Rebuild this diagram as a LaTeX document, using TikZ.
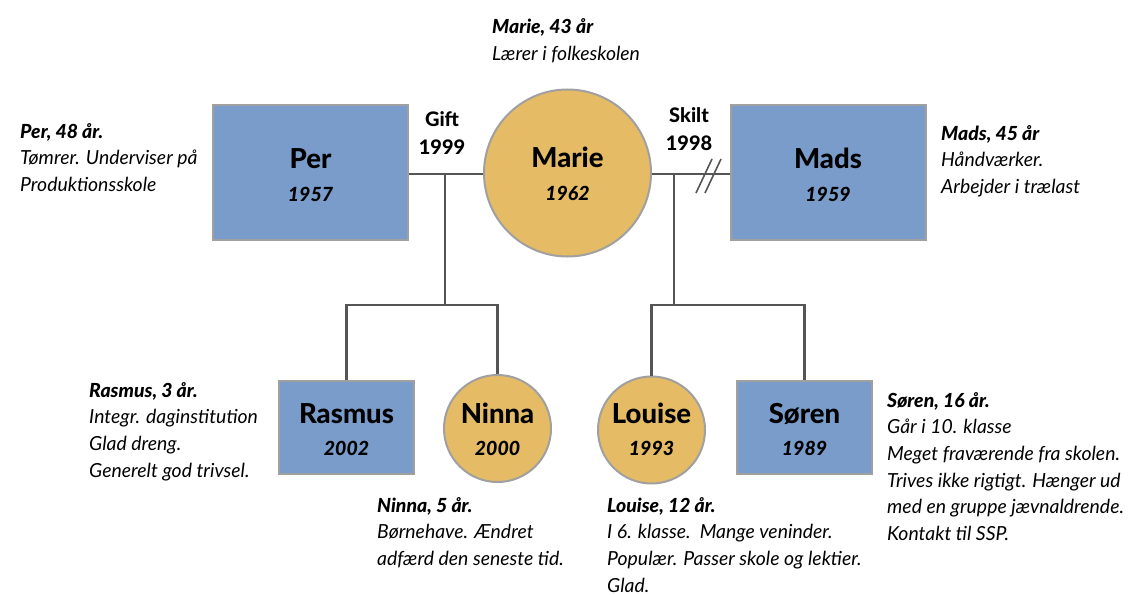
\documentclass[tikz,border=0pt]{standalone}
\usepackage{fontspec}
\setmainfont{Lato}[BoldFont={Lato Heavy},BoldItalicFont={Lato Heavy Italic}]
\definecolor{boyfill}{RGB}{121,156,202}
\definecolor{girlfill}{RGB}{229,188,101}
\definecolor{shapeedge}{RGB}{160,160,160}
\definecolor{linegray}{RGB}{85,85,85}
\newcommand{\nmfont}{\fontsize{27.5}{30}\bfseries\selectfont}
\newcommand{\yrfont}{\fontsize{19.5}{24}\bfseries\itshape\selectfont}
\newcommand{\relfont}{\fontsize{20}{28}\bfseries\selectfont}
\newcommand{\dscfont}{\fontsize{19.4}{26.7}\itshape\selectfont}
\begin{document}
\begin{tikzpicture}[x=1pt,y=-1pt,
  boxshape/.style={draw=shapeedge,line width=2pt,fill=boyfill,rectangle,inner sep=0pt},
  circshape/.style={draw=shapeedge,line width=2pt,fill=girlfill,circle,inner sep=0pt},
  nm/.style={anchor=base,inner sep=0pt,font=\nmfont},
  yr/.style={anchor=base,inner sep=0pt,font=\yrfont},
  rel/.style={anchor=base,inner sep=0pt,font=\relfont},
  dsc/.style={anchor=base west,inner sep=0pt,font=\dscfont},
  conn/.style={draw=linegray,line width=2.5pt},
  slashmark/.style={draw=linegray,line width=1.6pt}]
\useasboundingbox[fill=white] (0,0) rectangle (1129,594);
% parents
\node[boxshape,minimum width=195pt,minimum height=135pt] (per) at (310.5,172) {};
\node[circshape,minimum size=167pt] (marie) at (567.5,173) {};
\node[boxshape,minimum width=195pt,minimum height=135pt] (mads) at (828,172) {};
% children
\node[boxshape,minimum width=135pt,minimum height=93pt] (rasmus) at (346.5,427.5) {};
\node[circshape,minimum size=107pt] (ninna) at (497.5,428.5) {};
\node[circshape,minimum size=107pt] (louise) at (651.5,430) {};
\node[boxshape,minimum width=135pt,minimum height=93pt] (soren) at (804.5,427.5) {};
% couple / child connectors
\coordinate (gm) at (445,174);
\coordinate (gc) at (445,305);
\coordinate (dm) at (674,174);
\coordinate (dc) at (674,305);
\draw[conn] (per.east |- gm) -- (marie.west |- gm);
\draw[conn] (gm) -- (gc);
\draw[conn] (rasmus.north) |- (ninna.north |- gc) -- (ninna.north);
\draw[conn] (marie.east |- dm) -- (mads.west |- dm);
\draw[conn] (dm) -- (dc);
\draw[conn] (louise.north) |- (soren.north |- dc) -- (soren.north);
\coordinate (s1) at (704,176);
\coordinate (s2) at (713,176);
\draw[slashmark] ([shift={(-8,17)}]s1) -- ([shift={(8,-17)}]s1);
\draw[slashmark] ([shift={(-8,17)}]s2) -- ([shift={(8,-17)}]s2);
% names and years
\node[nm] (pername) at (310.5,168) {Per};
\node[yr] (peryear) at (310.5,201) {1957};
\node[nm] (mariename) at (567.5,167) {Marie};
\node[yr] (marieyear) at (567.5,200) {1962};
\node[nm] (madsname) at (828,168) {Mads};
\node[yr] (madsyear) at (828,201) {1959};
\node[nm] (rasmusname) at (346.5,423) {Rasmus};
\node[yr] (rasmusyear) at (346.5,455) {2002};
\node[nm] (ninnaname) at (497.5,423) {Ninna};
\node[yr] (ninnayear) at (497.5,455) {2000};
\node[nm] (louisename) at (651.5,423) {Louise};
\node[yr] (louiseyear) at (651.5,455) {1993};
\node[nm] (sorenname) at (804.5,423) {Søren};
\node[yr] (sorenyear) at (804.5,455) {1989};
% relation labels
\node[rel] (gift) at (442,126) {Gift};
\node[rel] (giftyear) at (442,154) {1999};
\node[rel] (skilt) at (689,122) {Skilt};
\node[rel] (skiltyear) at (689,150) {1998};
% descriptions
\node[dsc] (perdesc) at (20,138) {\begin{tabular}[t]{@{}l@{}}\textbf{Per, 48 år.}\\ Tømrer. Underviser på\\ Produktionsskole\end{tabular}};
\node[dsc] (mariedesc) at (492,34) {\begin{tabular}[t]{@{}l@{}}\textbf{Marie, 43 år}\\ Lærer i folkeskolen\end{tabular}};
\node[dsc] (madsdesc) at (941,140) {\begin{tabular}[t]{@{}l@{}}\textbf{Mads, 45 år}\\ Håndværker.\\ Arbejder i trælast\end{tabular}};
\node[dsc] (rasmusdesc) at (89,397) {\begin{tabular}[t]{@{}l@{}}\textbf{Rasmus, 3 år.}\\ Integr. daginstitution\\ Glad dreng.\\ Generelt god trivsel.\end{tabular}};
\node[dsc] (ninnadesc) at (377,512) {\begin{tabular}[t]{@{}l@{}}\textbf{Ninna, 5 år.}\\ Børnehave. Ændret\\ adfærd den seneste tid.\end{tabular}};
\node[dsc] (louisedesc) at (607,512) {\begin{tabular}[t]{@{}l@{}}\textbf{Louise, 12 år.}\\ I 6. klasse.\ \ Mange veninder.\\ Populær. Passer skole og lektier.\\ Glad.\end{tabular}};
\node[dsc] (sorendesc) at (887,407) {\begin{tabular}[t]{@{}l@{}}\textbf{Søren, 16 år.}\\ Går i 10. klasse\\ Meget fraværende fra skolen.\\ Trives ikke rigtigt. Hænger ud\\ med en gruppe jævnaldrende.\\ Kontakt til SSP.\end{tabular}};
\end{tikzpicture}
\end{document}
